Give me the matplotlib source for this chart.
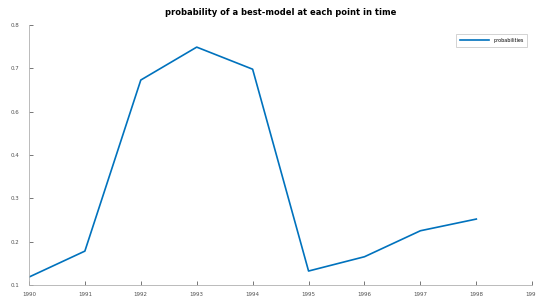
import matplotlib
matplotlib.use('Agg')
import matplotlib.pyplot as plt

# data
years = [1990, 1991, 1992, 1993, 1994, 1995, 1996, 1997, 1998]
prob = [0.118, 0.178, 0.573, 0.649, 0.598, 0.132, 0.165, 0.225, 0.252]
xtick_labels = ['1990', '1991', '1992', '1993', '1994', '1995', '1996', '1997', '1998', '1999']
ytick_pos = [0.1, 0.2, 0.3, 0.4, 0.5, 0.6, 0.7]
ytick_labels = ['0.1', '0.2', '0.3', '0.4', '0.6', '0.7', '0.8']

fig = plt.figure(figsize=(5.36, 2.98), dpi=100)
ax = fig.add_axes([0.054, 0.044, 0.939, 0.872])

ax.plot(years, prob, color=(0, 0.447, 0.741), linewidth=1.2, label='probabilities')

ax.set_xlim(1990, 1999)
ax.set_ylim(0.1, 0.7)
ax.set_xticks(range(1990, 2000))
ax.set_xticklabels(xtick_labels)
ax.set_yticks(ytick_pos)
ax.set_yticklabels(ytick_labels)

for s in ['top', 'right']:
    ax.spines[s].set_visible(False)
for s in ['left', 'bottom']:
    ax.spines[s].set_color('#b0b0b0')
    ax.spines[s].set_linewidth(0.6)
ax.tick_params(direction='in', length=3, width=0.6, color='#606060',
               labelsize=4, labelcolor='#505050')
ax.tick_params(axis='x', pad=5)
ax.tick_params(axis='y', pad=7)

ax.set_title('probability of a best-model at each point in time',
             fontsize=6, fontweight='bold', pad=7)

leg = ax.legend(loc='upper right', fontsize=3.5, frameon=True, fancybox=False,
                edgecolor='#c0c0c0', bbox_to_anchor=(0.995, 0.975), handlelength=6,
                borderpad=0.8)
leg.get_frame().set_linewidth(0.6)

fig.savefig('out.png', dpi=100)
